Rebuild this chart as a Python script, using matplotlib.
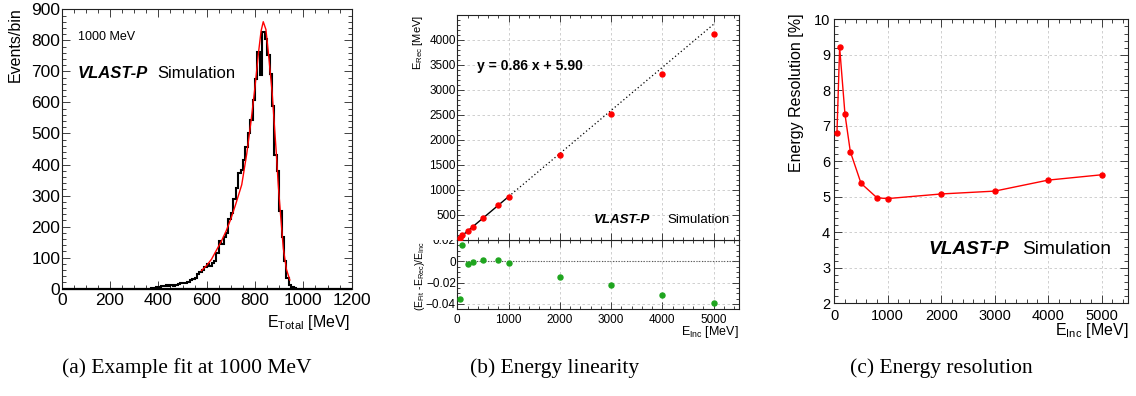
import numpy as np
import matplotlib
matplotlib.use("Agg")
import matplotlib.pyplot as plt
from matplotlib.ticker import MultipleLocator, FuncFormatter
from matplotlib.patches import Rectangle

plt.rcParams['font.family'] = ['Liberation Sans', 'DejaVu Sans']
plt.rcParams['mathtext.fontset'] = 'custom'
plt.rcParams['mathtext.rm'] = 'Liberation Sans'
plt.rcParams['mathtext.it'] = 'Liberation Sans:italic'
plt.rcParams['mathtext.bf'] = 'Liberation Sans:bold'

# ---------------- data ----------------
# (a) histogram of total deposited energy at 1000 MeV (10 MeV bins, first bin at 370 MeV)
hist_first_edge = 370
hist_bin_width = 10
hist_counts = [1, 2, 4, 5, 9, 8, 11, 10, 11, 9,
               13, 15, 17, 19, 18, 22, 27, 30, 36, 47,
               55, 60, 70, 78, 72, 82, 90, 115, 155, 145,
               168, 178, 224, 245, 288, 325, 372, 382, 416, 458,
               502, 545, 608, 675, 763, 688, 826, 805, 752, 690,
               588, 432, 378, 250, 168, 88, 36, 12, 4, 1]
fit_x = [578, 600, 620, 641, 660, 680, 700, 720, 745, 766, 784, 800, 814, 825,
         834, 845, 855, 871, 882, 889, 896, 907, 917, 930, 944]
fit_y = [58, 75, 95, 125, 152, 185, 225, 272, 335, 436, 543, 651, 758, 830,
         860, 835, 762, 630, 505, 425, 335, 225, 130, 62, 28]

# (b) linearity
e_inc = [50, 100, 200, 300, 500, 800, 1000, 2000, 3000, 4000, 5000]
e_rec = [47, 93, 177, 264, 437, 695, 864, 1690, 2515, 3315, 4105]
rel_resid = [-0.035, 0.0153, -0.0028, -0.0003, 0.0016, 0.0016, -0.0013,
             -0.0150, -0.0222, -0.0319, -0.0388]
fit_slope = 0.86
fit_intercept = 5.90
fit_range_end = 1000

# (c) resolution
resolution = [6.81, 9.21, 7.32, 6.27, 5.38, 4.97, 4.95, 5.08, 5.16, 5.47, 5.62]

captions = ["(a) Example fit at 1000 MeV", "(b) Energy linearity", "(c) Energy resolution"]

# ---------------- figure ----------------
W, H = 1136, 396
fig = plt.figure(figsize=(W / 100, H / 100), dpi=100)


def box(l, r, t, b):
    return [l / W, 1 - b / H, (r - l) / W, (b - t) / H]


def fx(x):
    return x / W


def fy(y):
    return 1 - y / H


FR = '#222222'


def root_style(ax, lsize, maj, mino, padx, pady):
    ax.tick_params(which='both', direction='in', top=True, right=True,
                   labelsize=lsize, color=FR, width=0.6)
    ax.tick_params(which='major', length=maj)
    ax.tick_params(which='minor', length=mino)
    ax.tick_params(axis='x', pad=padx)
    ax.tick_params(axis='y', pad=pady)
    for s in ax.spines.values():
        s.set_color(FR)
        s.set_linewidth(0.8)


def vlast(ax, x1, x2, y, size):
    ax.text(x1, y, 'VLAST-P', transform=ax.transAxes, fontsize=size,
            fontweight='bold', fontstyle='italic', va='center', ha='left')
    ax.text(x2, y, 'Simulation', transform=ax.transAxes, fontsize=size,
            va='center', ha='left')


# ---- panel (a) ----
axa = fig.add_axes(box(61.7, 351.7, 9.3, 288.7))
edges = hist_first_edge + hist_bin_width * np.arange(len(hist_counts) + 1)
axa.hlines(0, 0, 1200, color='black', lw=1.6, clip_on=False, zorder=3)
axa.stairs(hist_counts, edges, color='black', lw=1.5, zorder=3)
axa.plot(fit_x, fit_y, color='red', lw=1.0, zorder=4)
axa.set_xlim(0, 1200)
axa.set_ylim(0, 900)
axa.xaxis.set_major_locator(MultipleLocator(200))
axa.xaxis.set_minor_locator(MultipleLocator(50))
axa.yaxis.set_major_locator(MultipleLocator(100))
axa.yaxis.set_minor_locator(MultipleLocator(20))
root_style(axa, 12.5, 5.8, 2.9, 3, 1)
axa.text(0.056, 0.901, '1000 MeV', transform=axa.transAxes, fontsize=9, va='center')
vlast(axa, 0.056, 0.329, 0.772, 12)
fig.text(fx(15), fy(7), 'Events/bin', rotation=90, ha='center', va='top', fontsize=11.5)
fig.text(fx(350), fy(323), r'E$_{\mathrm{Total}}$ [MeV]', ha='right', va='center', fontsize=11.5)

# ---- panel (b) ----
axb_bot = fig.add_axes(box(457.3, 739.3, 240, 308.7))
axb_top = fig.add_axes(box(457.3, 739.3, 15, 240), sharex=axb_bot)
axb_top.set_zorder(2)
axb_bot.set_zorder(1)

grid_kw = dict(ls=(0, (3, 3)), color='#c8c8c8', lw=0.6)
xline = np.array([e_inc[0], fit_range_end])
axb_top.plot(xline, fit_slope * xline + fit_intercept, color='black', lw=1.0, zorder=3)
xdot = np.array([fit_range_end, e_inc[-1]])
axb_top.plot(xdot, fit_slope * xdot + fit_intercept, color='black', lw=0.9, ls=(0, (1, 2)), zorder=3)
axb_top.plot(e_inc, e_rec, 'o', color='red', ms=3.6, mec='red', zorder=4)
axb_top.set_xlim(0, 5500)
axb_top.set_ylim(0, 4490)
axb_top.yaxis.set_major_locator(MultipleLocator(500))
axb_top.yaxis.set_minor_locator(MultipleLocator(100))
axb_top.yaxis.set_major_formatter(FuncFormatter(lambda v, p: '' if v < 1 else f'{v:.0f}'))
axb_top.grid(True, which='major', **grid_kw)
root_style(axb_top, 8.5, 5, 2.5, 3, 1)
axb_top.tick_params(axis='x', labelbottom=False)
axb_top.text(0.069, 0.775, 'y = 0.86 x + 5.90', transform=axb_top.transAxes,
             fontsize=10, fontweight='bold', va='center')
vlast(axb_top, 0.485, 0.745, 0.089, 9.6)

axb_bot.axhline(0, color='#555555', lw=0.8, ls=(0, (1, 1.5)), zorder=2)
axb_bot.plot(e_inc, rel_resid, 'o', color='#1fa51f', ms=3.6, mec='#1fa51f', zorder=4)
axb_bot.set_ylim(-0.0445, 0.02)
axb_bot.xaxis.set_major_locator(MultipleLocator(1000))
axb_bot.xaxis.set_minor_locator(MultipleLocator(200))
axb_bot.yaxis.set_major_locator(MultipleLocator(0.02))
axb_bot.yaxis.set_minor_locator(MultipleLocator(0.005))
axb_bot.yaxis.set_major_formatter(FuncFormatter(
    lambda v, p: '0' if abs(v) < 1e-9 else f'{v:.2f}'.replace('-', '\u2212')))
axb_bot.grid(True, which='major', **grid_kw)
root_style(axb_bot, 8.5, 5, 2.5, 3.5, 1)
fig.text(fx(418), fy(15), r'E$_{\mathrm{Rec}}$ [MeV]', rotation=90, ha='center', va='top', fontsize=8)
fig.text(fx(420), fy(241), r'(E$_{\mathrm{Fit}}$ -E$_{\mathrm{Rec}}$)/E$_{\mathrm{Inc}}$',
         rotation=90, ha='center', va='top', fontsize=7.5)
fig.text(fx(739), fy(332), r'E$_{\mathrm{Inc}}$ [MeV]', ha='right', va='center', fontsize=9)
# upper pad hides the top half of the 0.02 label
fig.add_artist(Rectangle((fx(405), fy(240)), fx(50), 7 / H, transform=fig.transFigure,
                         facecolor='white', edgecolor='none', zorder=10))

# ---- panel (c) ----
axc = fig.add_axes(box(834.3, 1128.3, 19.3, 303.3))
axc.plot(e_inc, resolution, '-o', color='red', lw=1.0, ms=3.6, zorder=4)
axc.set_xlim(0, 5500)
axc.set_ylim(2, 10)
axc.xaxis.set_major_locator(MultipleLocator(1000))
axc.xaxis.set_minor_locator(MultipleLocator(200))
axc.yaxis.set_major_locator(MultipleLocator(1))
axc.yaxis.set_minor_locator(MultipleLocator(0.2))
axc.grid(True, which='major', **grid_kw)
root_style(axc, 10.5, 5.8, 2.9, 4, 3)
vlast(axc, 0.320, 0.639, 0.188, 13.8)
fig.text(fx(797), fy(13), 'Energy Resolution [%]', rotation=90, ha='center', va='top', fontsize=11.5)
fig.text(fx(1128), fy(331), r'E$_{\mathrm{Inc}}$ [MeV]', ha='right', va='center', fontsize=11.5)

# ---- captions ----
for x, c in zip([62, 470, 850], captions):
    fig.text(fx(x), fy(368), c, ha='left', va='center', fontsize=15.5,
             family=['Liberation Serif', 'DejaVu Serif'])

fig.savefig('out.png', dpi=100)
